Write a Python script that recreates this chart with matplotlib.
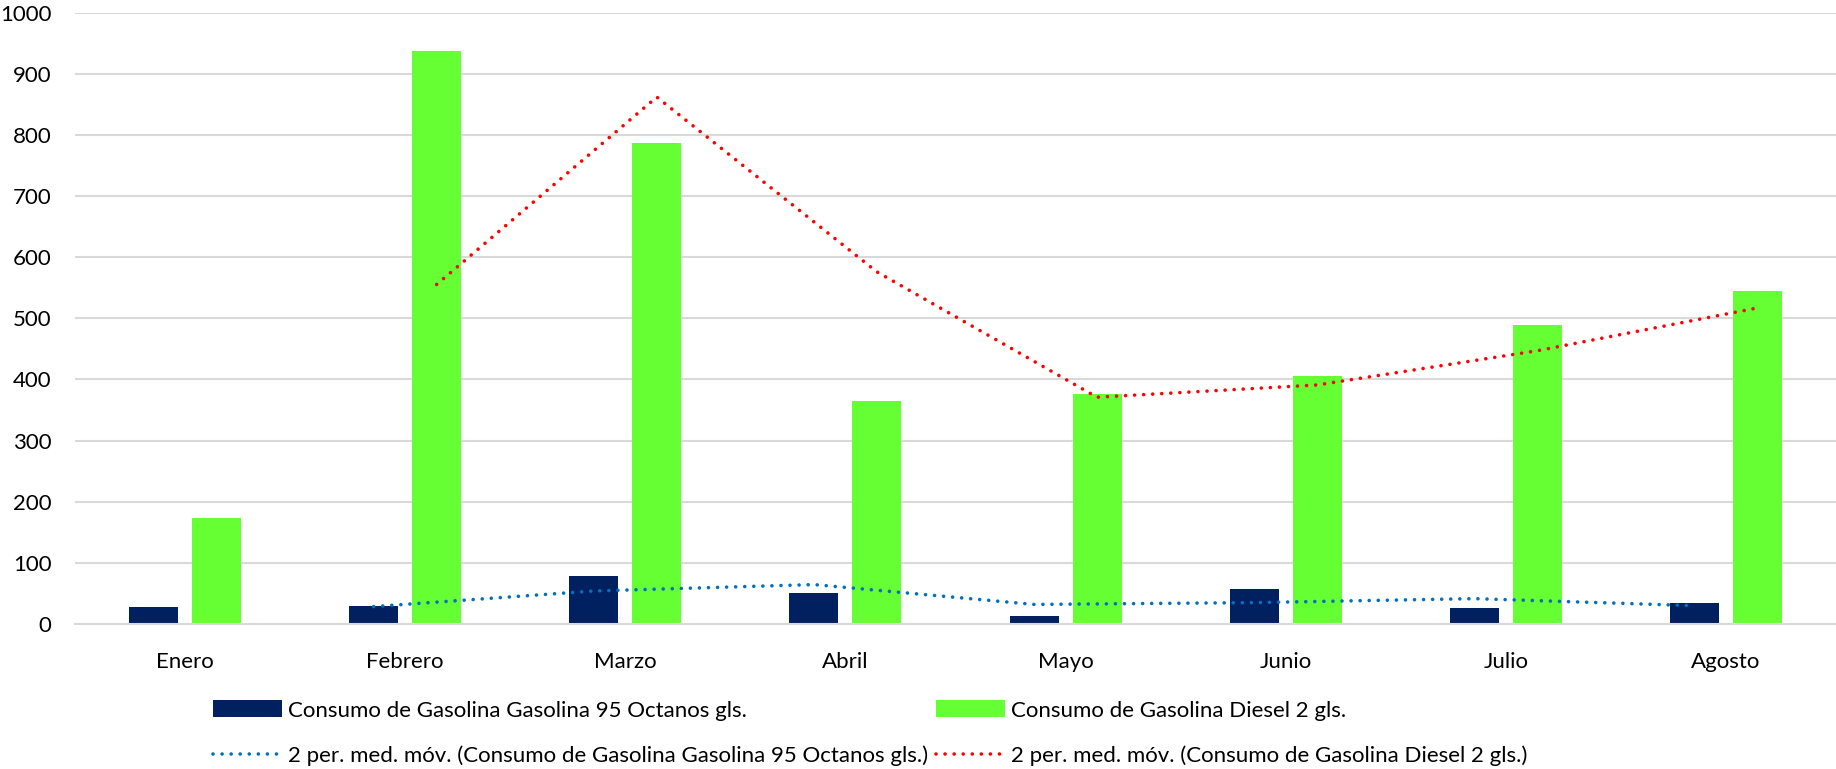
import numpy as np
import matplotlib
matplotlib.use('Agg')
import matplotlib.pyplot as plt

##data
meses = ['Enero', 'Febrero', 'Marzo', 'Abril', 'Mayo', 'Junio', 'Julio', 'Agosto']
gasolina95 = [27, 30, 78, 51, 13, 57, 26, 34]
diesel2 = [174, 937, 787, 365, 377, 405, 489, 545]
#2 period moving average (trendline), first month has no value
mm_gasolina95 = [np.nan, 28.5, 54, 64.5, 32, 35, 41.5, 30]
mm_diesel2 = [np.nan, 555.5, 862, 576, 371, 391, 447, 517]

lbl95 = 'Consumo de Gasolina Gasolina 95 Octanos gls.'
lbldiesel = 'Consumo de Gasolina Diesel 2 gls.'

plt.rcParams['font.family'] = ['Lato', 'DejaVu Sans']
fs = 16

fig = plt.figure(figsize=(18.36, 7.69), dpi=100)
ax = fig.add_axes([75/1836, 1-624/769, 1-75/1836, (624-12.7)/769])

x = np.arange(len(meses))
w = 0.2227
off = 0.143
b1 = ax.bar(x - off, gasolina95, w, color='#002060', zorder=2, label=lbl95)
b2 = ax.bar(x + off, diesel2, w, color='#66FF33', zorder=2, label=lbldiesel)

dots = (0, (0.01, 2.5))
l1, = ax.plot(x - off, mm_gasolina95, color='#0070C0', lw=2.6, linestyle=dots,
              dash_capstyle='round', zorder=3,
              label='2 per. med. móv. (' + lbl95 + ')')
l2, = ax.plot(x + off, mm_diesel2, color='#FF0000', lw=2.6, linestyle=dots,
              dash_capstyle='round', zorder=3,
              label='2 per. med. móv. (' + lbldiesel + ')')

ax.set_xlim(-0.5, len(meses) - 0.5)
ax.set_ylim(0, 1000)
ax.set_yticks(np.arange(0, 1001, 100))
ax.set_xticks(x)
ax.set_xticklabels(meses)
ax.grid(axis='y', color='#d9d9d9', lw=1.5, zorder=0)
for s in ['top', 'right', 'left']:
    ax.spines[s].set_visible(False)
ax.spines['bottom'].set_color('#d9d9d9')
ax.spines['bottom'].set_linewidth(1.5)
ax.tick_params(axis='both', length=0, labelsize=fs, colors='black')
ax.tick_params(axis='y', pad=17)
ax.tick_params(axis='x', pad=20)

#legend as two columns, placed like the excel one
leg_kw = dict(loc='center left', frameon=False, fontsize=fs,
              handlelength=3.1, handleheight=0.8, handletextpad=0.27,
              labelspacing=1.1, borderpad=0, borderaxespad=0)
leg1 = fig.legend(handles=[b1, l1], bbox_to_anchor=(213/1836, 1-733/769), **leg_kw)
leg2 = fig.legend(handles=[b2, l2], bbox_to_anchor=(936/1836, 1-733/769), **leg_kw)

fig.savefig('out.png', dpi=100)
